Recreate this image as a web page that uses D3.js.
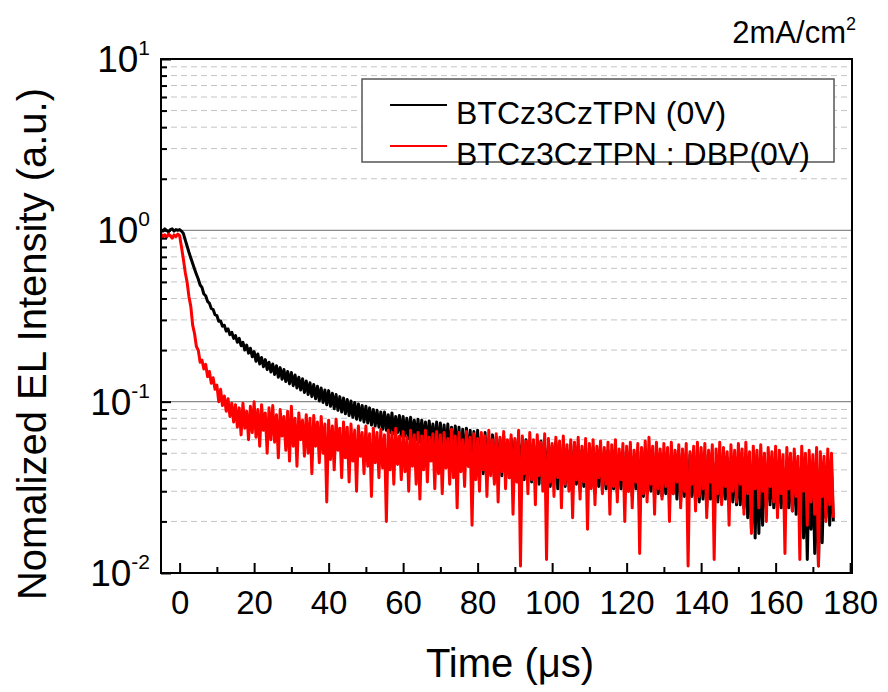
<!DOCTYPE html>
<html>
<head>
<meta charset="utf-8">
<script src="https://cdn.jsdelivr.net/npm/d3@7"></script>
<style>
  body { margin: 0; background: #fff; }
  svg { display: block; }
</style>
</head>
<body>
<svg id="chart" width="888" height="692"></svg>
<script>
// sampling grid: -5 .. 175.5 us, every 0.5 us
const tStart = -5;
const tStep = 0.5;

const seriesNames = ["BTCz3CzTPN (0V)", "BTCz3CzTPN : DBP(0V)"];
const seriesColors = ["#000000", "#ff0000"];

const xTicks = [0, 20, 40, 60, 80, 100, 120, 140, 160, 180];
const yTicks = [0.01, 0.1, 1, 10];
const yTickExp = ["-2", "-1", "0", "1"];

// BTCz3CzTPN (0V)
const blackVals = [
  1.01, 0.99, 1.02, 1.0, 0.98, 1.01, 1.02, 0.99, 1.01, 1.0,
  1.01, 0.99, 0.96, 0.88, 0.81, 0.745, 0.69, 0.64, 0.595, 0.555,
  0.52, 0.48, 0.465, 0.425, 0.415, 0.385, 0.375, 0.35, 0.345, 0.322,
  0.318, 0.295, 0.296, 0.276, 0.279, 0.258, 0.266, 0.246, 0.254, 0.234,
  0.243, 0.222, 0.234, 0.212, 0.222, 0.2, 0.214, 0.192, 0.205, 0.183,
  0.196, 0.172, 0.19, 0.166, 0.181, 0.16, 0.176, 0.154, 0.17, 0.149,
  0.166, 0.144, 0.162, 0.139, 0.158, 0.135, 0.154, 0.131, 0.15, 0.127,
  0.148, 0.124, 0.143, 0.12, 0.139, 0.117, 0.136, 0.113, 0.132, 0.11,
  0.129, 0.107, 0.126, 0.104, 0.123, 0.101, 0.12, 0.099, 0.117, 0.096,
  0.116, 0.094, 0.112, 0.091, 0.11, 0.089, 0.107, 0.087, 0.105, 0.085,
  0.103, 0.083, 0.101, 0.081, 0.099, 0.079, 0.097, 0.078, 0.095, 0.076,
  0.094, 0.075, 0.092, 0.073, 0.09, 0.072, 0.089, 0.071, 0.087, 0.069,
  0.087, 0.068, 0.084, 0.066, 0.086, 0.065, 0.082, 0.066, 0.083, 0.063,
  0.082, 0.063, 0.08, 0.061, 0.081, 0.062, 0.078, 0.06, 0.079, 0.058,
  0.078, 0.059, 0.076, 0.056, 0.077, 0.057, 0.074, 0.054, 0.076, 0.053,
  0.075, 0.052, 0.073, 0.05, 0.074, 0.049, 0.071, 0.048, 0.072, 0.046,
  0.071, 0.045, 0.069, 0.044, 0.07, 0.042, 0.068, 0.041, 0.067, 0.04,
  0.068, 0.041, 0.063, 0.038, 0.066, 0.036, 0.061, 0.04, 0.064, 0.035,
  0.062, 0.04, 0.06, 0.037, 0.063, 0.039, 0.058, 0.036, 0.061, 0.038,
  0.059, 0.036, 0.062, 0.038, 0.057, 0.035, 0.06, 0.037, 0.056, 0.034,
  0.058, 0.036, 0.055, 0.033, 0.059, 0.035, 0.054, 0.034, 0.057, 0.032,
  0.055, 0.034, 0.058, 0.031, 0.053, 0.034, 0.056, 0.032, 0.052, 0.034,
  0.056, 0.031, 0.053, 0.033, 0.055, 0.03, 0.052, 0.032, 0.054, 0.031,
  0.051, 0.032, 0.054, 0.029, 0.05, 0.032, 0.053, 0.03, 0.049, 0.031,
  0.052, 0.03, 0.05, 0.031, 0.053, 0.029, 0.049, 0.031, 0.051, 0.029,
  0.05, 0.03, 0.052, 0.028, 0.048, 0.031, 0.051, 0.022, 0.049, 0.028,
  0.053, 0.029, 0.049, 0.03, 0.051, 0.027, 0.048, 0.029, 0.05, 0.028,
  0.047, 0.029, 0.05, 0.027, 0.049, 0.029, 0.046, 0.027, 0.05, 0.026,
  0.048, 0.028, 0.046, 0.025, 0.049, 0.028, 0.045, 0.026, 0.048, 0.026,
  0.046, 0.027, 0.049, 0.024, 0.045, 0.027, 0.047, 0.025, 0.044, 0.026,
  0.048, 0.026, 0.045, 0.027, 0.047, 0.025, 0.044, 0.026, 0.046, 0.025,
  0.043, 0.025, 0.047, 0.024, 0.044, 0.021, 0.046, 0.018, 0.043, 0.016,
  0.045, 0.017, 0.042, 0.019, 0.046, 0.024, 0.043, 0.025, 0.045, 0.024,
  0.042, 0.023, 0.044, 0.024, 0.041, 0.022, 0.045, 0.024, 0.042, 0.023,
  0.044, 0.022, 0.041, 0.023, 0.043, 0.016, 0.04, 0.012, 0.042, 0.018,
  0.04, 0.013, 0.043, 0.011, 0.041, 0.015, 0.039, 0.021, 0.042, 0.019,
  0.041, 0.02
];

// BTCz3CzTPN : DBP(0V)
const redVals = [
  0.95, 0.92, 0.94, 0.91, 0.95, 0.93, 0.90, 0.94, 0.92, 0.95,
  0.93, 0.80, 0.68, 0.57, 0.50, 0.41, 0.36, 0.28, 0.25, 0.21,
  0.20, 0.17, 0.175, 0.155, 0.165, 0.14, 0.15, 0.128, 0.138, 0.118,
  0.125, 0.10, 0.118, 0.095, 0.108, 0.088, 0.104, 0.082, 0.098, 0.076,
  0.096, 0.071, 0.092, 0.064, 0.098, 0.07, 0.088, 0.06, 0.094, 0.066,
  0.1, 0.062, 0.09, 0.055, 0.096, 0.068, 0.086, 0.05, 0.092, 0.06,
  0.095, 0.058, 0.084, 0.047, 0.09, 0.063, 0.082, 0.052, 0.088, 0.045,
  0.094, 0.055, 0.08, 0.042, 0.086, 0.06, 0.078, 0.048, 0.084, 0.05,
  0.08, 0.038, 0.083, 0.055, 0.076, 0.044, 0.082, 0.05, 0.074, 0.026,
  0.078, 0.046, 0.072, 0.04, 0.079, 0.052, 0.07, 0.036, 0.076, 0.047,
  0.071, 0.034, 0.074, 0.045, 0.068, 0.03, 0.072, 0.048, 0.066, 0.038,
  0.072, 0.042, 0.065, 0.028, 0.07, 0.044, 0.066, 0.036, 0.069, 0.041,
  0.064, 0.02, 0.068, 0.04, 0.066, 0.033, 0.07, 0.043, 0.063, 0.035,
  0.067, 0.039, 0.062, 0.03, 0.068, 0.042, 0.064, 0.033, 0.066, 0.027,
  0.063, 0.04, 0.068, 0.034, 0.062, 0.045, 0.065, 0.031, 0.067, 0.038,
  0.064, 0.029, 0.066, 0.041, 0.061, 0.033, 0.069, 0.036, 0.063, 0.024,
  0.066, 0.039, 0.06, 0.032, 0.067, 0.042, 0.062, 0.019, 0.065, 0.035,
  0.061, 0.03, 0.066, 0.04, 0.063, 0.028, 0.068, 0.037, 0.06, 0.033,
  0.065, 0.026, 0.062, 0.039, 0.067, 0.031, 0.06, 0.036, 0.064, 0.022,
  0.061, 0.034, 0.068, 0.011, 0.063, 0.038, 0.059, 0.029, 0.066, 0.035,
  0.06, 0.025, 0.064, 0.037, 0.058, 0.03, 0.065, 0.012, 0.061, 0.034,
  0.057, 0.028, 0.062, 0.036, 0.059, 0.024, 0.063, 0.033, 0.056, 0.03,
  0.06, 0.021, 0.058, 0.035, 0.062, 0.027, 0.055, 0.034, 0.061, 0.018,
  0.057, 0.031, 0.06, 0.025, 0.055, 0.036, 0.059, 0.029, 0.054, 0.033,
  0.058, 0.022, 0.056, 0.032, 0.06, 0.026, 0.053, 0.035, 0.057, 0.02,
  0.055, 0.03, 0.058, 0.024, 0.052, 0.034, 0.057, 0.013, 0.054, 0.029,
  0.059, 0.026, 0.062, 0.033, 0.055, 0.022, 0.058, 0.031, 0.053, 0.027,
  0.057, 0.032, 0.054, 0.02, 0.058, 0.029, 0.052, 0.034, 0.056, 0.024,
  0.053, 0.03, 0.057, 0.011, 0.051, 0.033, 0.055, 0.023, 0.058, 0.028,
  0.054, 0.031, 0.057, 0.021, 0.052, 0.034, 0.056, 0.012, 0.053, 0.029,
  0.058, 0.025, 0.054, 0.032, 0.051, 0.019, 0.056, 0.03, 0.052, 0.026,
  0.057, 0.033, 0.053, 0.022, 0.058, 0.029, 0.051, 0.017, 0.055, 0.031,
  0.052, 0.024, 0.056, 0.03, 0.05, 0.02, 0.054, 0.032, 0.051, 0.026,
  0.055, 0.021, 0.052, 0.029, 0.049, 0.013, 0.054, 0.031, 0.05, 0.023,
  0.053, 0.028, 0.048, 0.012, 0.055, 0.03, 0.05, 0.019, 0.052, 0.026,
  0.049, 0.022, 0.054, 0.011, 0.051, 0.028, 0.048, 0.02, 0.053, 0.025,
  0.05, 0.021
];

const FONT = "'Liberation Sans', Arial, sans-serif";
const margin = { top: 59, right: 36, bottom: 119, left: 161 };
const width = 888, height = 692;
const plotW = width - margin.left - margin.right;
const plotH = height - margin.top - margin.bottom;

const svg = d3.select("#chart");

const x = d3.scaleLinear().domain([-5, 180.5]).range([0, plotW]);
const y = d3.scaleLog().domain([0.01, 10]).range([plotH, 0]);

const g = svg.append("g").attr("transform", `translate(${margin.left},${margin.top})`);

// === grid ===
const minorY = [];
[0.01, 0.1, 1].forEach(dec => { for (let k = 2; k <= 9; k++) minorY.push(dec * k); });

g.append("g")
  .selectAll("line")
  .data(minorY)
  .join("line")
  .attr("x1", 0).attr("x2", plotW)
  .attr("y1", d => y(d)).attr("y2", d => y(d))
  .attr("stroke", "#c4c4c4")
  .attr("stroke-width", 1)
  .attr("stroke-dasharray", "6,4");

g.append("g")
  .selectAll("line")
  .data([0.1, 1])
  .join("line")
  .attr("x1", 0).attr("x2", plotW)
  .attr("y1", d => y(d)).attr("y2", d => y(d))
  .attr("stroke", "#8a8a8a")
  .attr("stroke-width", 1.2);

// === traces ===
g.append("clipPath").attr("id", "clip")
  .append("rect").attr("width", plotW).attr("height", plotH);

const line = d3.line()
  .x(d => x(d[0]))
  .y(d => y(d[1]));

[blackVals, redVals].forEach((vals, i) => {
  const pts = vals.map((v, j) => [tStart + j * tStep, v]);
  g.append("path")
    .datum(pts)
    .attr("clip-path", "url(#clip)")
    .attr("fill", "none")
    .attr("stroke", seriesColors[i])
    .attr("stroke-width", 3)
    .attr("stroke-linejoin", "round")
    .attr("d", line);
});

// === axes (ticks inward) ===
const xMinor = d3.range(10, 180, 20);

g.append("g")
  .attr("transform", `translate(0,${plotH})`)
  .call(d3.axisBottom(x).tickValues(xMinor).tickSize(-6).tickFormat(""))
  .call(a => a.select(".domain").remove())
  .call(a => a.selectAll("line").attr("stroke-width", 2));

const xAxis = g.append("g")
  .attr("transform", `translate(0,${plotH})`)
  .call(d3.axisBottom(x).tickValues(xTicks).tickSize(-10).tickPadding(18).tickFormat(d3.format("d")));
xAxis.select(".domain").remove();
xAxis.selectAll("line").attr("stroke-width", 2);
xAxis.selectAll("text")
  .attr("font-family", FONT)
  .attr("font-size", 33)
  .attr("fill", "#000");

g.append("g")
  .call(d3.axisLeft(y).tickValues(minorY).tickSize(-6).tickFormat(""))
  .call(a => a.select(".domain").remove())
  .call(a => a.selectAll("line").attr("stroke-width", 2));

g.append("g")
  .call(d3.axisLeft(y).tickValues(yTicks).tickSize(-10).tickFormat(""))
  .call(a => a.select(".domain").remove())
  .call(a => a.selectAll("line").attr("stroke-width", 2));

// y tick labels with superscripts
const yLab = g.append("g")
  .selectAll("text")
  .data(yTicks)
  .join("text")
  .attr("x", -11)
  .attr("y", d => y(d) + 13)
  .attr("text-anchor", "end")
  .attr("font-family", FONT)
  .attr("font-size", 37)
  .attr("fill", "#000");
yLab.append("tspan").text("10");
yLab.append("tspan")
  .attr("dy", -17)
  .attr("font-size", 21)
  .text((d, i) => yTickExp[i]);

// frame
g.append("rect")
  .attr("width", plotW)
  .attr("height", plotH)
  .attr("fill", "none")
  .attr("stroke", "#000")
  .attr("stroke-width", 2);

// === legend ===
const legend = svg.append("g");
legend.append("rect")
  .attr("x", 362).attr("y", 79)
  .attr("width", 472).attr("height", 83)
  .attr("fill", "#fff")
  .attr("stroke", "#555")
  .attr("stroke-width", 1.5);

seriesNames.forEach((name, i) => {
  const ly = 105 + i * 41;
  legend.append("line")
    .attr("x1", 390).attr("x2", 447)
    .attr("y1", ly).attr("y2", ly)
    .attr("stroke", seriesColors[i])
    .attr("stroke-width", 2);
  legend.append("text")
    .attr("x", 456)
    .attr("y", ly + 8)
    .attr("dy", "0.35em")
    .attr("font-family", FONT)
    .attr("font-size", 32)
    .attr("fill", "#000")
    .text(name);
});

// === titles ===
const corner = svg.append("text")
  .attr("x", 856)
  .attr("y", 43)
  .attr("text-anchor", "end")
  .attr("font-family", FONT)
  .attr("font-size", 31)
  .attr("fill", "#000");
corner.append("tspan").text("2mA/cm");
corner.append("tspan").attr("dy", -13).attr("font-size", 18).text("2");

svg.append("text")
  .attr("x", 510)
  .attr("y", 677)
  .attr("text-anchor", "middle")
  .attr("font-family", FONT)
  .attr("font-size", 40)
  .attr("fill", "#000")
  .text("Time (\u03bcs)");

svg.append("text")
  .attr("transform", "translate(46,344) rotate(-90)")
  .attr("text-anchor", "middle")
  .attr("font-family", FONT)
  .attr("font-size", 40)
  .attr("fill", "#000")
  .text("Nomalized EL Intensity (a.u.)");
</script>
</body>
</html>
